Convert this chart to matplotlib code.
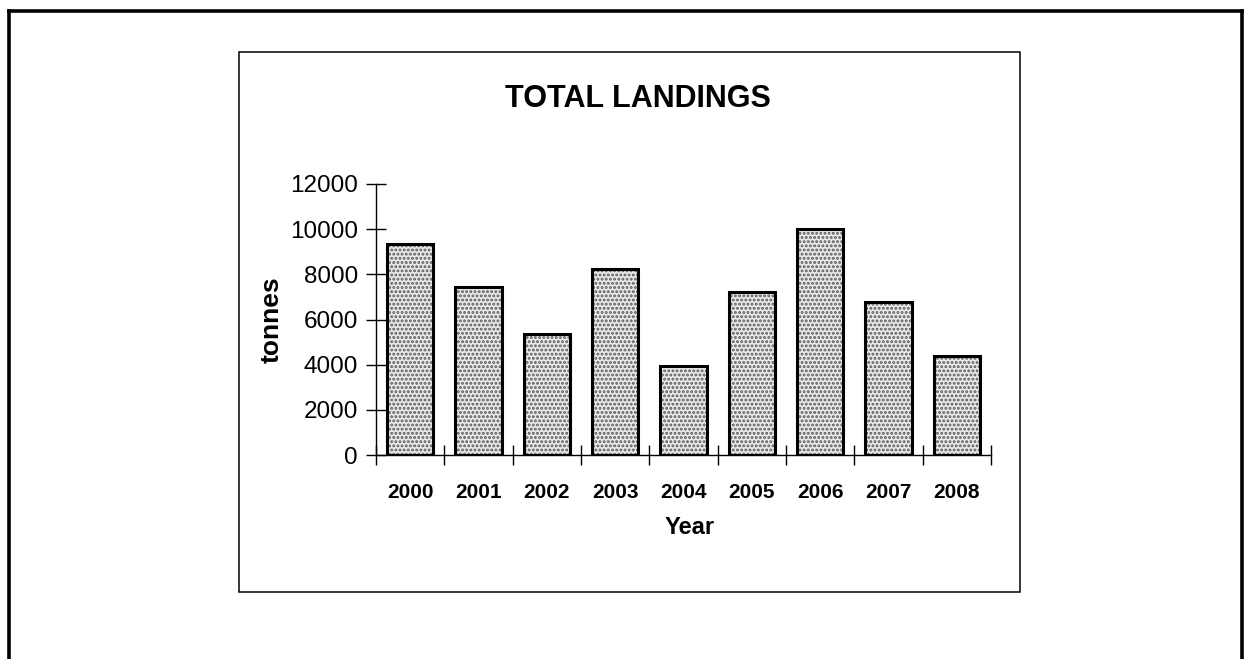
import matplotlib
matplotlib.use("Agg")
import matplotlib.pyplot as plt
from matplotlib.patches import Rectangle
from matplotlib.lines import Line2D

years = ["2000", "2001", "2002", "2003", "2004", "2005", "2006", "2007", "2008"]
landings = [9340, 7440, 5360, 8240, 3950, 7200, 10000, 6760, 4400]
yticks = [0, 2000, 4000, 6000, 8000, 10000, 12000]

plt.rcParams['font.family'] = ['Liberation Sans', 'DejaVu Sans']
plt.rcParams['hatch.linewidth'] = 1.4

W, H = 1249, 659
fig = plt.figure(figsize=(W / 100, H / 100), dpi=100)

# pixel helpers (from top-left)
def fx(px):
    return px / W

def fy(py):
    return 1 - py / H

# outer frame (bottom edge is off the picture)
for xs, ys in [([9, 9], [11, H + 5]), ([9, 1242], [11, 11]), ([1242, 1242], [11, H + 5])]:
    fig.add_artist(Line2D([fx(x) for x in xs], [fy(y) for y in ys], color='black', lw=2.6,
                          solid_capstyle='projecting'))

# chart box
fig.add_artist(Rectangle((fx(239), fy(592)), fx(1020) - fx(239), fy(52) - fy(592),
                         fill=False, edgecolor='black', lw=1.1, transform=fig.transFigure))

ax = fig.add_axes([fx(376), fy(455), fx(991) - fx(376), fy(184) - fy(455)])
x = list(range(len(years)))
ax.bar(x, landings, width=0.675, color='#e8e8e8', edgecolor='#5a5a5a', hatch='....', lw=0)
ax.bar(x, landings, width=0.675, fill=False, edgecolor='black', lw=2.2)

ax.set_xlim(-0.5, len(years) - 0.5)
ax.set_ylim(0, 12000)
ax.set_yticks(yticks)
ax.set_yticklabels([str(v) for v in yticks], fontsize=17.5)
ax.set_xticks(x)
ax.set_xticklabels(years, fontsize=15, fontweight='bold')
ax.set_xticks([i - 0.5 for i in range(len(years) + 1)], minor=True)
ax.tick_params(axis='x', which='major', length=0, pad=20)
ax.tick_params(axis='x', which='minor', direction='inout', length=14, width=1)
ax.tick_params(axis='y', direction='inout', length=14, width=1, pad=6)
for s in ['top', 'right']:
    ax.spines[s].set_visible(False)
ax.spines['left'].set_linewidth(1)
ax.spines['bottom'].set_linewidth(1)

fig.text(fx(638), fy(99), "TOTAL LANDINGS", fontsize=22, fontweight='bold', ha='center', va='center')
fig.text(fx(272), fy(320), "tonnes", fontsize=19, fontweight='bold', rotation=90, ha='center', va='center')
fig.text(fx(690), fy(527), "Year", fontsize=17, fontweight='bold', ha='center', va='center')

fig.savefig("out.png", dpi=100)
